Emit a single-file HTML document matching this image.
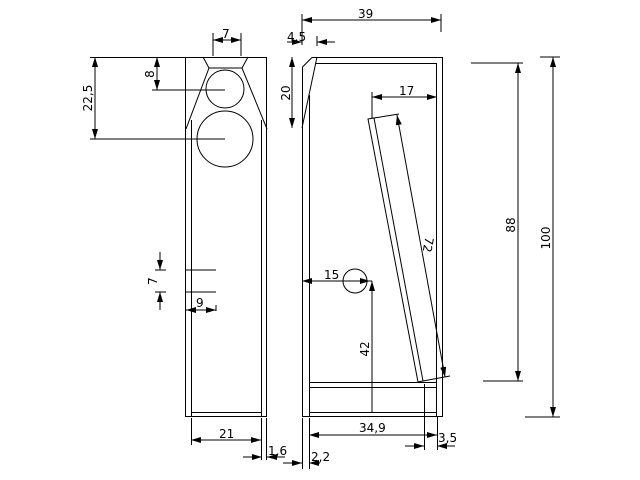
<!DOCTYPE html>
<html><head><meta charset="utf-8"><style>
html,body{margin:0;padding:0;background:#fff;}
svg{display:block;}
text{font-family:"DejaVu Sans","Liberation Sans",sans-serif;font-size:12px;fill:#000;}
</style></head><body>
<svg width="640" height="480" viewBox="0 0 640 480" xmlns="http://www.w3.org/2000/svg">
<defs>
<marker id="a" viewBox="0 0 10 6" refX="10" refY="3" markerWidth="10" markerHeight="6" orient="auto-start-reverse" markerUnits="userSpaceOnUse"><path d="M0,0L10,3L0,6z" fill="#000"/></marker>
</defs>
<g stroke="#000" stroke-width="1" fill="none">
<!-- front view -->
<rect x="185.5" y="57.5" width="81" height="359"/>
<line x1="191.5" y1="120" x2="191.5" y2="417"/>
<line x1="261.5" y1="120" x2="261.5" y2="417"/>
<line x1="191" y1="412.5" x2="261" y2="412.5"/>
<polyline points="186,129 209,68 242,68 267,129"/>
<line x1="203" y1="57" x2="209" y2="68"/>
<line x1="248" y1="57" x2="242" y2="68"/>
<circle cx="225" cy="89" r="19"/>
<circle cx="225" cy="139" r="28"/>
<!-- 7 top -->
<line x1="213" y1="33" x2="213" y2="56"/><line x1="241" y1="33" x2="241" y2="56"/>
<line x1="213" y1="40" x2="241" y2="40" marker-start="url(#a)" marker-end="url(#a)"/>
<!-- 8 -->
<line x1="157" y1="57" x2="157" y2="90" marker-start="url(#a)" marker-end="url(#a)"/>
<line x1="152" y1="90" x2="225" y2="90"/>
<!-- 22,5 -->
<line x1="90" y1="57.5" x2="185" y2="57.5"/>
<line x1="90" y1="139" x2="225" y2="139"/>
<line x1="95" y1="57" x2="95" y2="139" marker-start="url(#a)" marker-end="url(#a)"/>
<!-- lower 7 / 9 -->
<line x1="185" y1="270" x2="216" y2="270"/><line x1="185" y1="292" x2="216" y2="292"/>
<line x1="155" y1="270" x2="166" y2="270"/><line x1="155" y1="292" x2="166" y2="292"/>
<line x1="160" y1="252" x2="160" y2="270" marker-end="url(#a)"/>
<line x1="160" y1="310" x2="160" y2="292" marker-end="url(#a)"/>
<line x1="186" y1="310" x2="216" y2="310" marker-start="url(#a)" marker-end="url(#a)"/>
<line x1="216" y1="305" x2="216" y2="311"/>
<!-- 21, 1,6 -->
<line x1="191.5" y1="418" x2="191.5" y2="445"/><line x1="261.5" y1="418" x2="261.5" y2="460"/><line x1="266.5" y1="418" x2="266.5" y2="460"/>
<line x1="191" y1="440" x2="261" y2="440" marker-start="url(#a)" marker-end="url(#a)"/>
<line x1="243" y1="457" x2="262" y2="457" marker-end="url(#a)"/>
<line x1="267" y1="457" x2="285" y2="457"/>
<line x1="267" y1="457" x2="277" y2="457" marker-start="url(#a)"/>
<!-- side view -->
<polyline points="312,57.5 442.5,57.5 442.5,416.5 302.5,416.5 302.5,67 312,57.5"/>
<line x1="317" y1="57" x2="302" y2="128"/>
<line x1="309.5" y1="95" x2="309.5" y2="417"/>
<line x1="436.5" y1="63" x2="436.5" y2="417"/>
<line x1="315" y1="63.5" x2="437" y2="63.5"/>
<line x1="309" y1="382.5" x2="437" y2="382.5"/>
<line x1="309" y1="387.5" x2="437" y2="387.5"/>
<line x1="309" y1="412.5" x2="437" y2="412.5"/>
<polygon points="368,119 374,118 423,381 418,382"/>
<line x1="374" y1="118" x2="399" y2="114"/>
<line x1="423" y1="381" x2="450" y2="376"/>
<line x1="397" y1="115" x2="445" y2="377" marker-start="url(#a)" marker-end="url(#a)"/>
<circle cx="355" cy="281" r="12"/>
<line x1="302" y1="281" x2="372" y2="281" marker-start="url(#a)"/>
<line x1="345" y1="281" x2="370" y2="281" marker-end="url(#a)"/>
<line x1="372" y1="412" x2="372" y2="281" marker-end="url(#a)"/>
<!-- 39, 4.5 -->
<line x1="302" y1="14" x2="302" y2="45"/><line x1="441" y1="14" x2="441" y2="32"/>
<line x1="302" y1="20" x2="441" y2="20" marker-start="url(#a)" marker-end="url(#a)"/>
<line x1="317" y1="36" x2="317" y2="46"/>
<line x1="287" y1="42" x2="302" y2="42" marker-end="url(#a)"/>
<line x1="317" y1="42" x2="335" y2="42"/>
<line x1="317" y1="42" x2="327" y2="42" marker-start="url(#a)"/>
<!-- 20 -->
<line x1="292" y1="57" x2="292" y2="128" marker-start="url(#a)" marker-end="url(#a)"/>
<!-- 17 -->
<line x1="372" y1="92" x2="372" y2="118"/>
<line x1="372" y1="97" x2="437" y2="97" marker-start="url(#a)" marker-end="url(#a)"/>
<!-- 34,9 / 3,5 / 2,2 -->
<line x1="309.5" y1="418" x2="309.5" y2="469"/><line x1="302.5" y1="418" x2="302.5" y2="469"/>
<line x1="424.5" y1="384" x2="424.5" y2="450"/><line x1="437.5" y1="417" x2="437.5" y2="450"/>
<line x1="309" y1="435" x2="437" y2="435" marker-start="url(#a)" marker-end="url(#a)"/>
<line x1="405" y1="446" x2="424" y2="446" marker-end="url(#a)"/>
<line x1="437" y1="446" x2="455" y2="446"/>
<line x1="437" y1="446" x2="447" y2="446" marker-start="url(#a)"/>
<line x1="283" y1="463" x2="302" y2="463" marker-end="url(#a)"/>
<line x1="309" y1="463" x2="320" y2="463"/>
<line x1="309" y1="463" x2="319" y2="463" marker-start="url(#a)"/>
<!-- 88 / 100 -->
<line x1="471" y1="63" x2="523" y2="63"/><line x1="483" y1="381" x2="523" y2="381"/>
<line x1="518" y1="63" x2="518" y2="381" marker-start="url(#a)" marker-end="url(#a)"/>
<line x1="540" y1="57" x2="560" y2="57"/><line x1="525" y1="417" x2="560" y2="417"/>
<line x1="553" y1="57" x2="553" y2="417" marker-start="url(#a)" marker-end="url(#a)"/>
</g>
<g>
<text x="222" y="38">7</text>
<text transform="translate(154,74) rotate(-90)" text-anchor="middle">8</text>
<text transform="translate(92,98) rotate(-90)" text-anchor="middle">22,5</text>
<text transform="translate(157,281) rotate(-90)" text-anchor="middle">7</text>
<text x="196" y="307">9</text>
<text x="219" y="438">21</text>
<text x="268" y="455">1,6</text>
<text x="358" y="18">39</text>
<text x="287" y="41">4.5</text>
<text transform="translate(290,93) rotate(-90)" text-anchor="middle">20</text>
<text x="399" y="95">17</text>
<text transform="translate(424,244) rotate(100)" text-anchor="middle">72</text>
<text x="324" y="279">15</text>
<text transform="translate(369,349) rotate(-90)" text-anchor="middle">42</text>
<text x="359" y="432">34,9</text>
<text x="438" y="442">3,5</text>
<text x="311" y="461">2,2</text>
<text transform="translate(515,225) rotate(-90)" text-anchor="middle">88</text>
<text transform="translate(550,238) rotate(-90)" text-anchor="middle">100</text>
</g>
</svg>
</body></html>
